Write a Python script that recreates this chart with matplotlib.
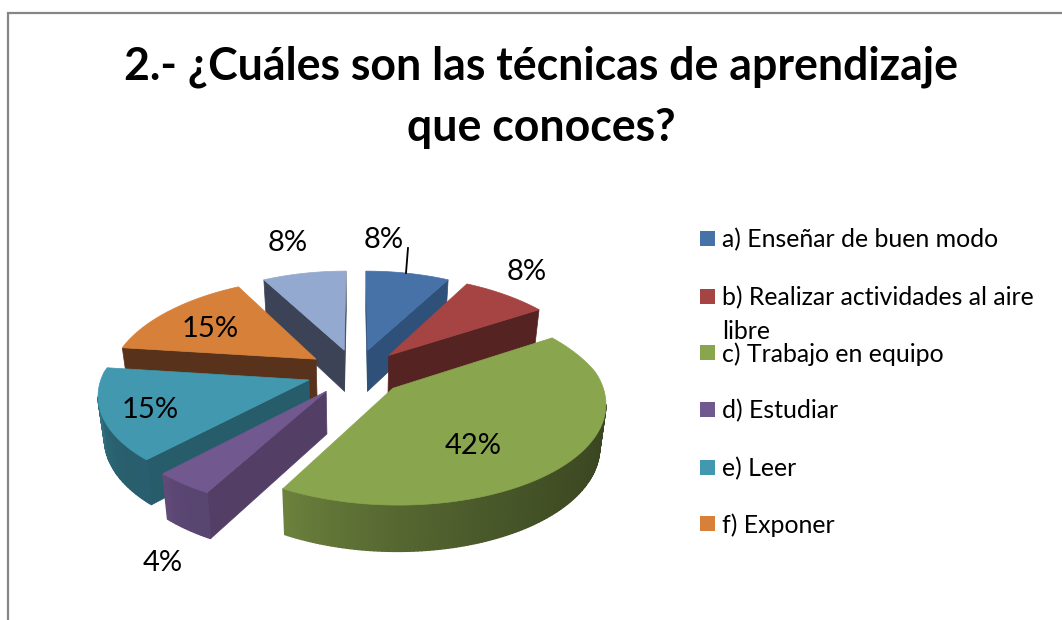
import numpy as np
import matplotlib
matplotlib.use("Agg")
import matplotlib.pyplot as plt
from matplotlib.patches import Polygon, Rectangle
from matplotlib.colors import to_rgb

# ---- data ----
title_text = "2.- ¿Cuáles son las técnicas de aprendizaje\nque conoces?"
slice_values = [8, 8, 42, 4, 15, 15, 8]
legend_labels = ["a) Enseñar de buen modo", "b) Realizar actividades al aire\nlibre",
                 "c) Trabajo en equipo", "d) Estudiar", "e) Leer", "f) Exponer"]

# ---- styles and layout ----
top_colors = ["#4672A8", "#A54442", "#89A54E", "#71588F", "#4198AF", "#D68039", "#93A9CF"]
wall_colors = ["#2F5079", "#552422", "#36401C", "#533E66", "#275D6B", "#58321A", "#3C4357"]
arc_shade = [(.7, .7), (.55, .55), (.40, .78), (.78, .84), (.62, .92), (.5, .6), (.6, .7)]
draw_order = [6, 0, 1, 5, 4, 3, 2]
label_xy = [(384, 240), (527, 272), (473, 446), (163, 563), (150, 410), (210, 329), (288, 243)]
legend_y = [238, 296, 352, 409, 467, 523]
CX, CY, RX, RY, EXPL, THICK, SHRINK = 356, 372, 206, 97, .24, 42, .975
PX_BACK, PX_FRONT, PY_BACK, PY_FRONT = .19, .13, .15, .13

def project(x, v, low=False):
    sx_scale = 1 / (1 + np.where(v > 0, PX_BACK, PX_FRONT) * v)
    sy_scale = 1 / (1 + np.where(v > 0, PY_BACK, PY_FRONT) * v)
    sx = RX * x * sx_scale * (SHRINK if low else 1)
    sy = -RY * v * sy_scale + (THICK * sy_scale ** .6 if low else 0)
    return CX + sx, CY + sy

def mix(col, f):
    return tuple(c * f for c in to_rgb(col))

fig = plt.figure(figsize=(10.62, 6.2), dpi=100)
ax = fig.add_axes([0, 0, 1, 1])
ax.set_xlim(0, 1062)
ax.set_ylim(620, 0)
ax.axis("off")

ax.plot([8, 8, 1062], [620, 13, 13], color="#868686", lw=1.6, solid_joinstyle="miter", zorder=1)

total = sum(slice_values)
edges = np.cumsum([0] + slice_values) / total * 2 * np.pi

for order, i in enumerate(draw_order):
    a0, a1 = edges[i], edges[i + 1]
    mid = (a0 + a1) / 2
    ox, ov = EXPL * np.sin(mid), EXPL * np.cos(mid)
    th = np.linspace(a0, a1, max(int((a1 - a0) * 60), 8))
    xs = np.r_[ox, ox + np.sin(th)]
    vs = np.r_[ov, ov + np.cos(th)]
    z = 10 + order * 2
    n = len(xs)
    for j in range(n):
        k = (j + 1) % n
        ax0, ay0 = project(xs[j], vs[j])
        ax1, ay1 = project(xs[k], vs[k])
        if ax1 - ax0 >= 0:
            continue
        bx0, by0 = project(xs[j], vs[j], True)
        bx1, by1 = project(xs[k], vs[k], True)
        if j == 0 or j == n - 1:
            col = wall_colors[i]
            lw = .5
        else:
            t = ((j - 1) / max(n - 3, 1)) ** 2.5
            f = arc_shade[i][0] + (arc_shade[i][1] - arc_shade[i][0]) * t
            col = mix(top_colors[i], f)
            lw = 1.0
        ax.add_patch(Polygon([(ax0, ay0), (ax1, ay1), (bx1, by1), (bx0, by0)],
                             closed=True, facecolor=col, edgecolor=col, lw=lw, zorder=z))
    px, py = project(xs, vs)
    ax.add_patch(Polygon(np.c_[px, py], closed=True, facecolor=top_colors[i],
                         edgecolor=top_colors[i], lw=.5, zorder=z + 1))

ax.text(541, 97, title_text, ha="center", va="center", family="Lato", weight="bold",
        fontsize=32.15, linespacing=1.55, color="black", zorder=50)

for v, (x, y) in zip(slice_values, label_xy):
    ax.text(x, y, f"{v}%", ha="center", va="center", family="Lato", fontsize=21,
            color="black", zorder=50)
ax.plot([408, 406], [248, 273], color="black", lw=1.3, zorder=50)

for lab, y, c in zip(legend_labels, legend_y, top_colors):
    ax.add_patch(Rectangle((700, y - 7.5), 15, 15, facecolor=c, edgecolor="none", zorder=50))
    ax.text(722, y - 10, lab, ha="left", va="top", family="Lato", fontsize=17.95,
            linespacing=1.55, color="black", zorder=50)

fig.savefig("out.png", dpi=100)
